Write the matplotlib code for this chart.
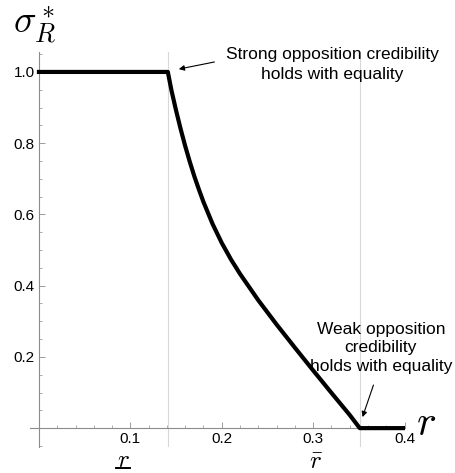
import numpy as np
from matplotlib import pyplot as plt
from matplotlib.ticker import MultipleLocator

# values
r_vals = [0.0, 0.141, 0.145, 0.150, 0.155, 0.160, 0.165, 0.170, 0.175, 0.180,
          0.190, 0.200, 0.210, 0.220, 0.240, 0.260, 0.280, 0.300, 0.320,
          0.340, 0.351, 0.4]
sigma_vals = [1.0, 1.0, 0.948, 0.892, 0.840, 0.792, 0.748, 0.707, 0.670, 0.635,
              0.573, 0.520, 0.474, 0.433, 0.359, 0.291, 0.226, 0.162, 0.099,
              0.037, 0.0, 0.0]
r_lower = 0.141
r_bar = 0.351
xticks = [0.1, 0.2, 0.3, 0.4]
yticks = [0.2, 0.4, 0.6, 0.8, 1.0]

plt.rcParams['font.family'] = ['Liberation Sans', 'DejaVu Sans']
plt.rcParams['mathtext.fontset'] = 'cm'

fig = plt.figure(figsize=(4.55, 4.73), dpi=100)
ax = fig.add_axes([30/455, 26/473, 375/455, 395/473])

axcol = '#8c8c8c'
ax.axvline(r_lower, color='#d8d8d8', lw=0.8, zorder=1)
ax.axvline(r_bar, color='#d8d8d8', lw=0.8, zorder=1)

ax.plot(r_vals, sigma_vals, color='black', lw=3, solid_joinstyle='round', zorder=3)

ax.set_xlim(-0.0098, 0.4005)
ax.set_ylim(-0.053, 1.056)

for side in ['top', 'right']:
    ax.spines[side].set_visible(False)
ax.spines['left'].set_position(('data', 0))
ax.spines['bottom'].set_position(('data', 0))
ax.spines['left'].set_color(axcol)
ax.spines['bottom'].set_color(axcol)
ax.spines['left'].set_linewidth(0.8)
ax.spines['bottom'].set_linewidth(0.8)

ax.set_xticks(xticks)
ax.set_xticklabels(['0.1', '0.2', '0.3', '0.4'])
ax.set_yticks(yticks)
ax.set_yticklabels(['0.2', '0.4', '0.6', '0.8', '1.0'])
ax.xaxis.set_minor_locator(MultipleLocator(0.02))
ax.yaxis.set_minor_locator(MultipleLocator(0.05))
ax.tick_params(which='major', direction='in', length=4, width=0.6, color=axcol,
               labelsize=11, labelcolor='black')
ax.tick_params(which='minor', direction='in', length=2.5, width=0.5, color=axcol)
ax.tick_params(axis='x', pad=3)
ax.tick_params(axis='y', pad=3)

# axis labels
fig.text(35/455, 1 - 25/473, r'$\sigma_R^*$', fontsize=27, ha='center', va='center')
fig.text(426/455, 1 - 424/473, r'$r$', fontsize=30, ha='center', va='center')

# r lower / r bar labels under the axis
fig.text(123/455, 1 - 460/473, r'$r$', fontsize=18, ha='center', va='center')
fig.add_artist(plt.Line2D([116/455, 130/455], [1 - 468/473, 1 - 468/473],
                          color='black', lw=1.4))
fig.text(316/455, 1 - 461/473, r'$\bar{r}$', fontsize=18, ha='center', va='center')

# annotations
ax.text(0.321, 1.022, 'Strong opposition credibility\nholds with equality',
        ha='center', va='center', fontsize=12.5, linespacing=1.4)
ax.annotate('', xy=(0.153, 1.008), xytext=(0.192, 1.028),
            arrowprops=dict(arrowstyle='-|>', color='black', lw=0.8,
                            mutation_scale=8, shrinkA=0, shrinkB=0))

ax.text(0.374, 0.225, 'Weak opposition\ncredibility\nholds with equality',
        ha='center', va='center', fontsize=12.5, linespacing=1.3)
ax.annotate('', xy=(0.354, 0.031), xytext=(0.366, 0.121),
            arrowprops=dict(arrowstyle='-|>', color='black', lw=0.8,
                            mutation_scale=8, shrinkA=0, shrinkB=0))

plt.savefig('out.png', dpi=100)
